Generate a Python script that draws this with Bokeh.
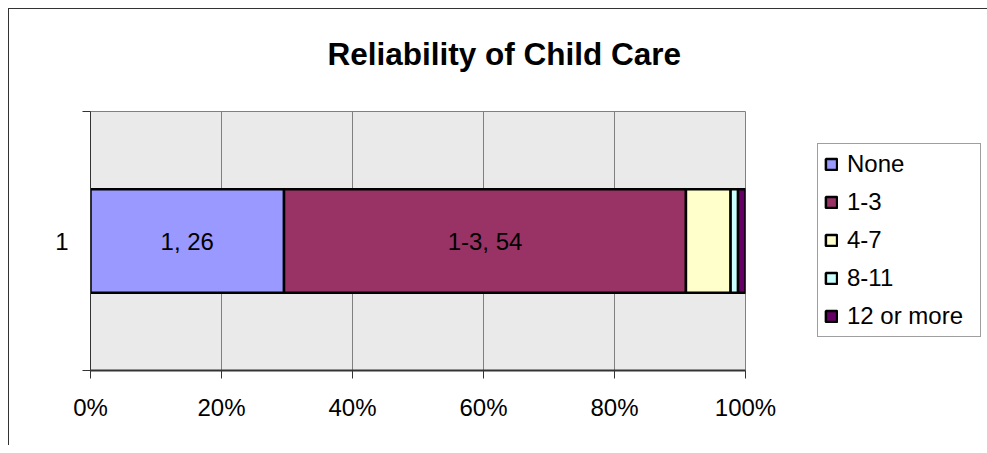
from bokeh.plotting import figure
from bokeh.models import (Range1d, FixedTicker, Legend, LegendItem, Title,
                          LabelSet, ColumnDataSource)
from bokeh.core.properties import value
from bokeh.embed import file_html
from bokeh.resources import INLINE

# ---- data ----
category = "1"
series = ["None", "1-3", "4-7", "8-11", "12 or more"]
values = [26, 54, 6, 1, 1]
colors = ["#9999FF", "#993366", "#FFFFCC", "#CCFFFF", "#660066"]
x_ticks = [0, 0.2, 0.4, 0.6, 0.8, 1.0]
x_tick_labels = ["0%", "20%", "40%", "60%", "80%", "100%"]
data_labels = {"None": "1, 26", "1-3": "1-3, 54"}

FONT = "Liberation Sans"
FS = "24px"

total = sum(values)
lefts, rights = [], []
acc = 0
for v in values:
    lefts.append(acc / total)
    acc += v
    rights.append(acc / total)

p = figure(frame_width=655, frame_height=259, output_backend="svg",
           toolbar_location=None,
           x_range=Range1d(0, 1), y_range=Range1d(0, 1),
           min_border_left=81, min_border_right=225, min_border_top=102,
           min_border_bottom=75)
p.styles = {"margin-left": "8px", "margin-top": "8px",
            "border-top": "1px solid #333333", "border-left": "1px solid #333333"}

p.background_fill_color = "#EAEAEA"
p.border_fill_color = "white"
p.outline_line_color = "#808080"
p.outline_line_width = 1

# bars
items = []
for s, l, r, c in zip(series, lefts, rights, colors):
    rend = p.hbar(y=0.5, left=l, right=r, height=0.4, fill_color=c,
                  line_color="black", line_width=2.5)
    items.append(LegendItem(label=s, renderers=[rend]))

# data labels
lab_x, lab_t = [], []
for s, l, r in zip(series, lefts, rights):
    if s in data_labels:
        lab_x.append((l + r) / 2)
        lab_t.append(data_labels[s])
src = ColumnDataSource(dict(x=lab_x, y=[0.5] * len(lab_x), t=lab_t))
p.add_layout(LabelSet(x="x", y="y", text="t", source=src, text_align="center",
                      text_baseline="middle", text_font=value(FONT),
                      text_font_size=value(FS), text_color="black"))

# x axis
xa = p.xaxis[0]
xa.ticker = FixedTicker(ticks=x_ticks, minor_ticks=[])
xa.major_label_overrides = {t: lab for t, lab in zip(x_ticks, x_tick_labels)}
xa.major_label_text_font = FONT
xa.major_label_text_font_size = FS
xa.major_label_text_color = "black"
xa.major_label_standoff = 15
xa.major_tick_out = 8
xa.major_tick_in = 0
xa.major_tick_line_color = "#333333"
xa.axis_line_color = "#333333"
xa.axis_line_width = 2

# y axis
ya = p.yaxis[0]
ya.ticker = FixedTicker(ticks=[0.5], minor_ticks=[0, 1])
ya.major_label_overrides = {0.5: category}
ya.major_tick_line_color = None
ya.minor_tick_out = 8
ya.minor_tick_in = 0
ya.minor_tick_line_color = "#333333"
ya.axis_line_color = "#333333"
ya.major_label_text_font = FONT
ya.major_label_text_font_size = FS
ya.major_label_text_color = "black"
ya.major_label_standoff = 14

# grid
p.xgrid.ticker = FixedTicker(ticks=x_ticks)
p.xgrid.grid_line_color = "#808080"
p.xgrid.grid_line_width = 1
p.ygrid.grid_line_color = None

# spacer between frame and title, then the title
spacer = Title(text=" ", text_font_size="1px", standoff=37)
p.add_layout(spacer, "above")
t = Title(text="Reliability of Child Care", align="left", offset=237,
          text_font=FONT, text_font_size="31.5px", text_font_style="bold",
          text_color="black", standoff=0)
p.add_layout(t, "above")

# legend
leg = Legend(items=items, location=(72, 33), orientation="vertical",
             label_text_font=FONT, label_text_font_size=FS,
             label_text_color="black", glyph_width=14, glyph_height=14,
             label_standoff=9, label_height=20, label_width=127,
             spacing=10, padding=6,
             margin=0, border_line_color="#404040", border_line_width=1,
             background_fill_color="white", background_fill_alpha=1)
p.add_layout(leg, "right")

open("out.html", "w").write(file_html(p, INLINE))
